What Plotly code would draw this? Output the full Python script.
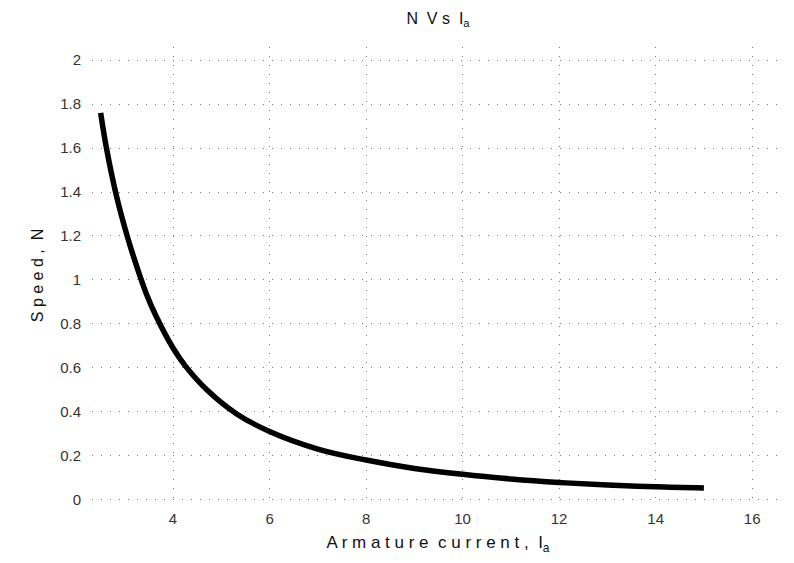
import plotly.graph_objects as go

# Data
armature_current = [2.5, 2.62, 2.83, 3.05, 3.25, 3.45, 3.66, 4.0, 4.25, 4.7, 5.32, 6.0, 7.0, 8.0, 9.0, 10.0, 11.0, 12.0, 13.0, 14.0, 15.0]
speed = [1.76, 1.6, 1.38, 1.2, 1.06, 0.935, 0.83, 0.69, 0.61, 0.5, 0.39, 0.31, 0.23, 0.18, 0.142, 0.115, 0.094, 0.078, 0.066, 0.058, 0.053]

x_ticks = [4, 6, 8, 10, 12, 14, 16]
x_tick_labels = ["4", "6", "8", "10", "12", "14", "16"]
y_ticks = [0, 0.2, 0.4, 0.6, 0.8, 1.0, 1.2, 1.4, 1.6, 1.8, 2.0]
y_tick_labels = ["0", "0.2", "0.4", "0.6", "0.8", "1", "1.2", "1.4", "1.6", "1.8", "2"]

FONT = "Liberation Sans, Arial, sans-serif"

fig = go.Figure()
fig.add_trace(go.Scatter(
    x=armature_current, y=speed, mode="lines",
    line=dict(color="black", width=5.5, shape="spline", smoothing=1.0),
    showlegend=False,
))

grid = dict(showgrid=True, gridcolor="#777", gridwidth=1, griddash="1px,8px",
            zeroline=False, showline=False, ticks="",
            tickfont=dict(family=FONT, size=15, color="#333"))

fig.update_layout(
    width=794, height=563,
    paper_bgcolor="white", plot_bgcolor="white",
    margin=dict(l=92, r=10, t=47, b=59),
    font=dict(family=FONT, color="#111"),
    title=dict(text="N  V s  I<sub>a</sub>", x=0.5, xref="paper", xanchor="center",
               y=0.968, yanchor="middle", font=dict(family=FONT, size=16, color="#111")),
    xaxis=dict(range=[2.321, 16.66], tickvals=x_ticks, ticktext=x_tick_labels,
               ticklabelstandoff=4,
               title=dict(text="A r m a t u r e  c u r r e n t ,  I<sub>a</sub>",
                          font=dict(family=FONT, size=17, color="#111"), standoff=10),
               **grid),
    yaxis=dict(range=[-0.02, 2.06], tickvals=y_ticks, ticktext=y_tick_labels,
               ticklabelstandoff=10,
               title=dict(text="S p e e d ,  N", font=dict(family=FONT, size=16, color="#111"),
                          standoff=12),
               **grid),
)

fig.write_html("out.html")
